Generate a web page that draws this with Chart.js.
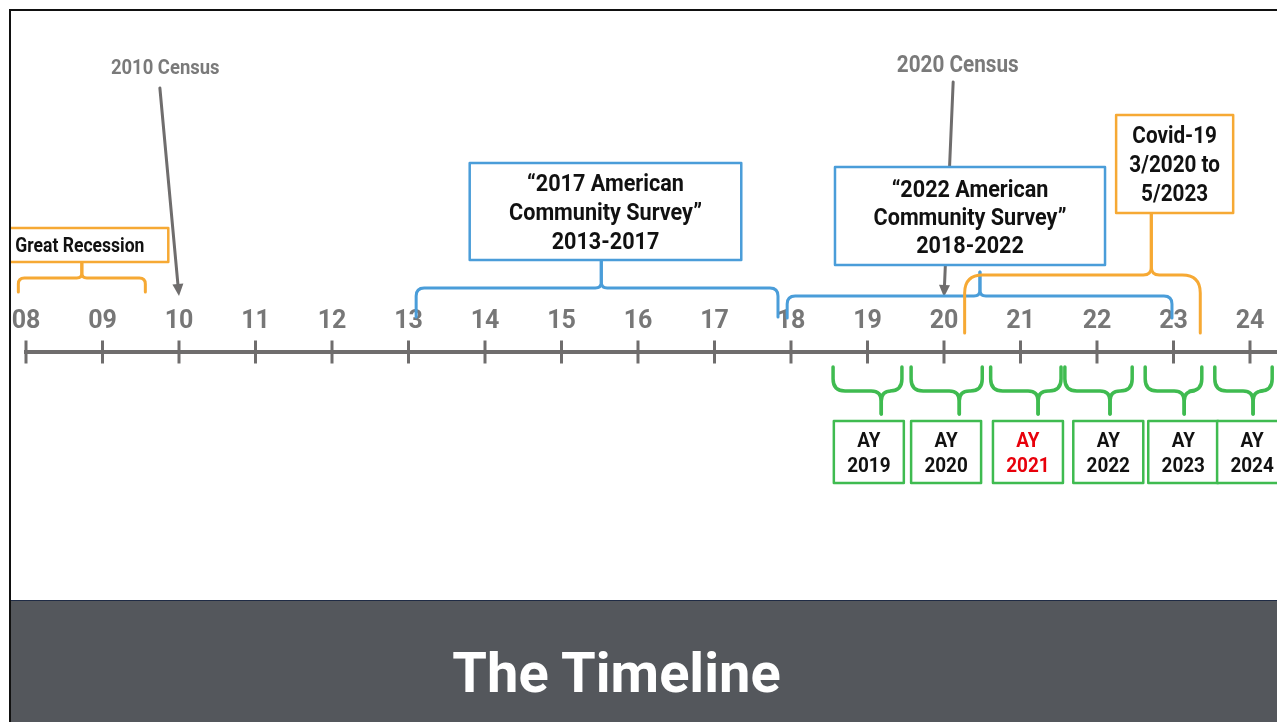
<!DOCTYPE html>
<html>
<head>
<meta charset="utf-8">
<script src="https://cdn.jsdelivr.net/npm/chart.js@4.4.1/dist/chart.umd.min.js"></script>
<style>
  html, body { margin: 0; padding: 0; background: #fff; }
  body { width: 1277px; height: 722px; position: relative; overflow: hidden; }
  #frame { position: absolute; left: 9px; top: 9px; right: -5px; bottom: -5px; border-left: 2px solid #111; border-top: 2px solid #111; }
  #plot { position: absolute; left: 11px; top: 11px; width: 1266px; height: 589px; }
  #band { position: absolute; left: 11px; top: 600px; width: 1266px; height: 122px; background: #54575c; border-top: 1px solid #1f2b45; box-sizing: border-box; }
  #title { position: absolute; left: 0; top: 640px; width: 1233px; height: 70px; line-height: 70px; text-align: center; color: #fff; font: bold 56px Roboto, sans-serif; }
</style>
</head>
<body>
<div id="frame"></div>
<div id="plot"><canvas id="chart" width="1266" height="589"></canvas></div>
<div id="band"></div>
<div id="title">The Timeline</div>
<script>
// years on the timeline (two-digit labels)
const tickYears = [8, 9, 10, 11, 12, 13, 14, 15, 16, 17, 18, 19, 20, 21, 22, 23, 24];

const censusLabels = ['2010 Census', '2020 Census'];
const censusYears = [10, 20];

// periods marked with a brace above the line
const spanText = [
  ['Great Recession'],
  ['\u201c2017 American', 'Community Survey\u201d', '2013-2017'],
  ['\u201c2022 American', 'Community Survey\u201d', '2018-2022'],
  ['Covid-19', '3/2020 to', '5/2023']
];
const spanStart = [7.9, 13.1, 17.95, 20.27];
const spanEnd = [9.56, 17.83, 22.98, 23.35];
const spanPeak = [8.73, 15.52, 20.47, 22.71];

// academic years, braces below the line
const ayLabels = ['2019', '2020', '2021', '2022', '2023', '2024'];
const ayStart = [18.55, 19.57, 20.61, 21.58, 22.63, 23.54];
const ayEnd = [19.45, 20.50, 21.53, 22.46, 23.37, 24.29];
const ayPeak = [19.18, 20.20, 21.23, 22.17, 23.14, 24.04];
const ayHighlight = '2021';

const BLUE = '#4a9dd9';
const ORANGE = '#f6a934';
const GREEN = '#3fbb50';
const GRAY = '#6f6d6d';
const TXT_GRAY = '#7a7a7a';
const FONT = 'Roboto, sans-serif';
const SQUEEZE = 0.9; // the source lettering is a narrow face

// layout for the annotations (y = pixels above the timeline)
const spanStyle = [
  { color: ORANGE, box: [7.7, 9.86], boxY: [124, 90], textLeft: 7.86, size: 19.5, lead: 0, bar: 74, ends: 60, r: 6, rc: 5 },
  { color: BLUE, box: [13.8, 17.35], boxY: [189, 92], size: 24, lead: 29, bar: 64, ends: 35, r: 8, rc: 6 },
  { color: BLUE, box: [18.575, 22.105], boxY: [185, 87], size: 24, lead: 28, bar: 56, ends: 34, r: 8, rc: 6, stem: 80 },
  { color: ORANGE, box: [22.25, 23.78], boxY: [237, 139], size: 23, lead: 29, bar: 77, ends: 19, r: 18, rc: 8 }
];
const censusStyle = [
  { labelX: 9.82, labelY: 285, tailX: 9.75, tailY: 264, tipY: 56, size: 20.5 },
  { labelX: 20.18, labelY: 288, tailX: 20.12, tailY: 270, tipY: 55, size: 23 }
];
const ayBoxLeft = [18.56, 19.57, 20.64, 21.69, 22.67, 23.57];
const ayStyle = { boxW: 0.915, boxY: [-69, -131], ends: -15, bar: -39, stem: -62, r: 12, rc: 10, size: 21, lead: 25 };

function arrow(ctx, x0, y0, x1, y1, color) {
  const ang = Math.atan2(y1 - y0, x1 - x0);
  const head = 12, half = 5.5;
  const bx = x1 - head * Math.cos(ang), by = y1 - head * Math.sin(ang);
  ctx.strokeStyle = color;
  ctx.lineWidth = 3;
  ctx.beginPath();
  ctx.moveTo(x0, y0);
  ctx.lineTo(bx, by);
  ctx.stroke();
  ctx.fillStyle = color;
  ctx.beginPath();
  ctx.moveTo(x1, y1);
  ctx.lineTo(bx + half * Math.sin(ang), by - half * Math.cos(ang));
  ctx.lineTo(bx - half * Math.sin(ang), by + half * Math.cos(ang));
  ctx.closePath();
  ctx.fill();
}

function brace(ctx, xa, xb, xp, yEnd, yBar, yStem, r, rc) {
  const d = Math.sign(yEnd - yBar);
  [[xa, 1], [xb, -1]].forEach(([xe, s]) => {
    ctx.beginPath();
    ctx.moveTo(xe, yEnd);
    ctx.lineTo(xe, yBar + d * r);
    ctx.quadraticCurveTo(xe, yBar, xe + s * r, yBar);
    ctx.lineTo(xp - s * rc, yBar);
    ctx.quadraticCurveTo(xp, yBar, xp, yBar - d * rc);
    ctx.lineTo(xp, yStem);
    ctx.stroke();
  });
}

function box(ctx, l, t, r, b, color) {
  ctx.fillStyle = '#fff';
  ctx.fillRect(l, t, r - l, b - t);
  ctx.strokeStyle = color;
  ctx.lineWidth = 2.5;
  ctx.strokeRect(l, t, r - l, b - t);
}

// cy is the visual centre of the capitals of the block
function textLines(ctx, arr, cx, cy, size, lead, color, align) {
  ctx.font = 'bold ' + size + 'px ' + FONT;
  ctx.textAlign = align || 'center';
  ctx.textBaseline = 'alphabetic';
  const top = cy - (arr.length - 1) * lead / 2;
  arr.forEach((s, i) => {
    ctx.save();
    ctx.translate(cx, top + i * lead + size * 0.711 / 2);
    ctx.scale(SQUEEZE, 1);
    ctx.fillStyle = color;
    ctx.fillText(s, 0, 0);
    ctx.restore();
  });
}

const timelineNotes = {
  id: 'timelineNotes',
  afterDatasetsDraw(chart) {
    const { ctx, scales: { x, y } } = chart;
    const px = v => x.getPixelForValue(v);
    const py = v => y.getPixelForValue(v);
    ctx.save();
    ctx.lineCap = 'round';
    ctx.lineJoin = 'round';

    censusYears.forEach((yr, i) => {
      const st = censusStyle[i];
      arrow(ctx, px(st.tailX), py(st.tailY), px(yr), py(st.tipY), GRAY);
      textLines(ctx, [censusLabels[i]], px(st.labelX), py(st.labelY), st.size, 0, TXT_GRAY);
    });

    spanText.forEach((lines, i) => {
      const st = spanStyle[i];
      ctx.strokeStyle = st.color;
      ctx.lineWidth = 3;
      const stemTop = st.stem !== undefined ? st.stem : st.boxY[1];
      brace(ctx, px(spanStart[i]), px(spanEnd[i]), px(spanPeak[i]), py(st.ends), py(st.bar), py(stemTop), st.r, st.rc);
    });
    spanText.forEach((lines, i) => {
      const st = spanStyle[i];
      const l = px(st.box[0]), r = px(st.box[1]);
      const t = py(st.boxY[0]), b = py(st.boxY[1]);
      box(ctx, l, t, r, b, st.color);
      if (st.textLeft !== undefined) {
        textLines(ctx, lines, px(st.textLeft), (t + b) / 2, st.size, st.lead, '#111', 'left');
      } else {
        textLines(ctx, lines, (l + r) / 2, (t + b) / 2, st.size, st.lead, '#111');
      }
    });

    ayLabels.forEach((lab, i) => {
      const s = ayStyle;
      ctx.strokeStyle = GREEN;
      ctx.lineWidth = 3.5;
      brace(ctx, px(ayStart[i]), px(ayEnd[i]), px(ayPeak[i]), py(s.ends), py(s.bar), py(s.stem), s.r, s.rc);
      const l = px(ayBoxLeft[i]), r = px(ayBoxLeft[i] + s.boxW);
      const t = py(s.boxY[0]), b = py(s.boxY[1]);
      box(ctx, l, t, r, b, GREEN);
      const col = lab === ayHighlight ? '#e8000b' : '#111';
      textLines(ctx, ['AY', lab], (l + r) / 2, (t + b) / 2, s.size, s.lead, col);
    });
    ctx.restore();
  }
};

new Chart(document.getElementById('chart'), {
  type: 'scatter',
  data: {
    datasets: [{
      label: 'Years',
      data: tickYears.map(v => ({ x: v, y: 0 })),
      pointStyle: 'line',
      pointRotation: 90,
      pointRadius: 11.5,
      pointBorderWidth: 3,
      borderColor: GRAY,
      clip: false
    }]
  },
  options: {
    responsive: false,
    animation: false,
    events: [],
    layout: { autoPadding: false, padding: { left: 15, right: 0, top: 0, bottom: 0 } },
    plugins: { legend: { display: false }, tooltip: { enabled: false } },
    scales: {
      x: {
        type: 'linear',
        position: { y: 0 },
        min: 8,
        max: 24.353,
        grid: { display: false, drawTicks: false },
        border: { color: GRAY, width: 4 },
        ticks: {
          stepSize: 1,
          includeBounds: false,
          autoSkip: false,
          maxRotation: 0,
          padding: -45,
          color: '#777',
          font: { family: FONT, weight: 'bold', size: 25 },
          callback: v => String(v).padStart(2, '0')
        }
      },
      y: { type: 'linear', display: false, min: -248, max: 341 }
    }
  },
  plugins: [timelineNotes]
});
</script>
</body>
</html>
